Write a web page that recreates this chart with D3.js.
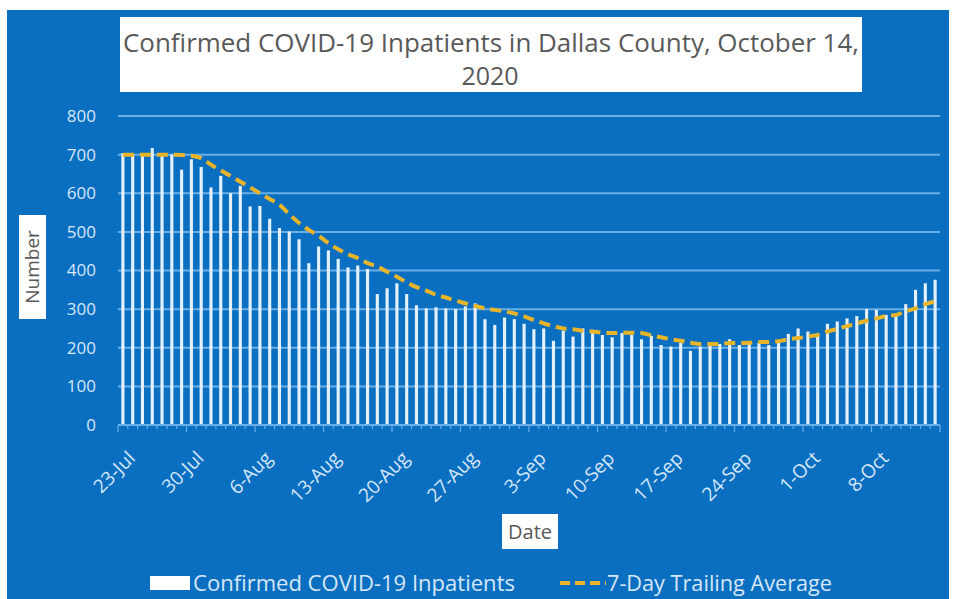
<!DOCTYPE html>
<html>
<head>
<meta charset="utf-8">
<script src="https://cdn.jsdelivr.net/npm/d3@7"></script>
<style>
  body { margin: 0; background: #ffffff; }
  svg { display: block; font-family: "Open Sans", "Noto Sans", sans-serif; }
</style>
</head>
<body>
<svg id="chart" width="956" height="599"></svg>
<script>
// daily confirmed inpatients, 23-Jul to 14-Oct 2020
var inpatients = [
    704, 700, 700, 717, 700, 700, 661, 688, 668, 615,
    645, 600, 619, 566, 567, 534, 510, 501, 481, 419,
    462, 452, 430, 408, 413, 404, 339, 354, 367, 339,
    310, 302, 305, 302, 300, 307, 315, 274, 259, 278,
    274, 262, 248, 250, 218, 244, 229, 250, 242, 233,
    227, 238, 233, 222, 231, 207, 203, 213, 192, 203,
    207, 210, 222, 207, 216, 213, 207, 218, 236, 250,
    242, 238, 262, 268, 276, 282, 300, 298, 285, 287,
    313, 350, 367, 376
];

// 7-day trailing average as drawn
var trailingAvg = [
    700, 700, 700, 700, 700, 700, 699, 697, 691, 674,
    659, 645, 630, 615, 600, 585, 570, 546, 523, 505,
    490, 471, 455, 442, 432, 419, 410, 397, 384, 369,
    357, 348, 337, 330, 322, 315, 308, 302, 298, 294,
    289, 281, 272, 263, 256, 250, 248, 244, 242, 239,
    238, 239, 239, 238, 232, 227, 222, 218, 213, 210,
    210, 210, 212, 212, 213, 215, 215, 217, 222, 225,
    229, 233, 242, 249, 256, 263, 270, 276, 282, 285,
    294, 302, 313, 320
];

var yTicks = [0, 100, 200, 300, 400, 500, 600, 700, 800];
var xTickLabels = ['23-Jul', '30-Jul', '6-Aug', '13-Aug', '20-Aug', '27-Aug',
    '3-Sep', '10-Sep', '17-Sep', '24-Sep', '1-Oct', '8-Oct'];

var days = d3.timeDay.range(new Date(2020, 6, 23), new Date(2020, 9, 15));
var fmt = d3.timeFormat('%-d-%b');
var categories = days.map(function (d) { return fmt(d); });

var blue = '#0a6fc1';
var gridColor = '#6aaee8';
var barColor = '#e4f0fb';
var labelColor = '#d6e7f7';
var avgColor = '#e8b52a';

var svg = d3.select('#chart');

// chart area background
svg.append('rect')
    .attr('x', 7).attr('y', 10)
    .attr('width', 942).attr('height', 589)
    .attr('fill', blue);

var plotLeft = 118, plotRight = 940, plotTop = 116, plotBottom = 425;

var x = d3.scaleBand()
    .domain(categories)
    .range([plotLeft, plotRight])
    .paddingInner(0.68)
    .paddingOuter(0.34);

var y = d3.scaleLinear()
    .domain([0, 800])
    .range([plotBottom, plotTop]);

// title box
svg.append('rect')
    .attr('x', 120).attr('y', 17)
    .attr('width', 742).attr('height', 75)
    .attr('fill', '#ffffff');

svg.append('text')
    .attr('x', 491).attr('y', 52)
    .attr('text-anchor', 'middle')
    .attr('fill', '#595959')
    .style('font-size', '25px')
    .attr('textLength', 736)
    .attr('lengthAdjust', 'spacingAndGlyphs')
    .text('Confirmed COVID-19 Inpatients in Dallas County, October 14,');

svg.append('text')
    .attr('x', 490).attr('y', 85)
    .attr('text-anchor', 'middle')
    .attr('fill', '#595959')
    .style('font-size', '25px')
    .text('2020');

// gridlines
svg.append('g')
    .selectAll('line')
    .data(yTicks.filter(function (t) { return t > 0; }))
    .enter().append('line')
    .attr('x1', plotLeft).attr('x2', plotRight)
    .attr('y1', function (d) { return y(d); })
    .attr('y2', function (d) { return y(d); })
    .attr('stroke', gridColor)
    .attr('stroke-width', 2);

// y axis labels
var yAxis = svg.append('g')
    .attr('transform', 'translate(' + (plotLeft - 22) + ',0)')
    .call(d3.axisLeft(y).tickValues(yTicks).tickSize(0).tickPadding(0));
yAxis.select('.domain').remove();
yAxis.selectAll('text')
    .attr('fill', labelColor)
    .style('font-size', '17px')
    .style('font-family', '"Open Sans", sans-serif');

// bars
svg.append('g')
    .selectAll('rect')
    .data(inpatients)
    .enter().append('rect')
    .attr('x', function (d, i) { return x(categories[i]); })
    .attr('y', function (d) { return y(d); })
    .attr('width', x.bandwidth())
    .attr('height', function (d) { return y(0) - y(d); })
    .attr('fill', barColor);

// x axis line with daily minor ticks
var step = x.step();
svg.append('line')
    .attr('x1', plotLeft).attr('x2', plotRight)
    .attr('y1', plotBottom).attr('y2', plotBottom)
    .attr('stroke', gridColor)
    .attr('stroke-width', 2);

svg.append('g')
    .selectAll('line')
    .data(d3.range(categories.length + 1))
    .enter().append('line')
    .attr('x1', function (i) { return plotLeft + i * step; })
    .attr('x2', function (i) { return plotLeft + i * step; })
    .attr('y1', plotBottom)
    .attr('y2', function (i) { return i % 7 === 0 ? plotBottom + 7 : plotBottom + 4; })
    .attr('stroke', gridColor)
    .attr('stroke-width', 1.2);

// x tick labels
svg.append('g')
    .selectAll('text')
    .data(xTickLabels)
    .enter().append('text')
    .attr('transform', function (d) {
        var cx = x(d) + x.bandwidth() / 2 + 4;
        return 'translate(' + cx + ',' + (plotBottom + 25) + ') rotate(-45)';
    })
    .attr('text-anchor', 'end')
    .attr('dy', '0.7em')
    .attr('fill', labelColor)
    .style('font-size', '19px')
    .text(function (d) { return d; });

// trailing average line
var line = d3.line()
    .x(function (d, i) { return x(categories[i]) + x.bandwidth() / 2; })
    .y(function (d) { return y(d); })
    .curve(d3.curveMonotoneX);

svg.append('path')
    .datum(trailingAvg)
    .attr('d', line)
    .attr('fill', 'none')
    .attr('stroke', avgColor)
    .attr('stroke-width', 4)
    .attr('stroke-dasharray', '11,6');

// axis title "Number"
svg.append('rect')
    .attr('x', 19).attr('y', 215)
    .attr('width', 27).attr('height', 104)
    .attr('fill', '#ffffff');
svg.append('text')
    .attr('transform', 'translate(39,267) rotate(-90)')
    .attr('text-anchor', 'middle')
    .attr('fill', '#595959')
    .style('font-size', '19px')
    .text('Number');

// axis title "Date"
svg.append('rect')
    .attr('x', 502).attr('y', 514)
    .attr('width', 56).attr('height', 35)
    .attr('fill', '#ffffff');
svg.append('text')
    .attr('x', 530).attr('y', 539)
    .attr('text-anchor', 'middle')
    .attr('fill', '#595959')
    .style('font-size', '20px')
    .text('Date');

// legend
var legend = svg.append('g');
legend.append('rect')
    .attr('x', 150).attr('y', 576)
    .attr('width', 40).attr('height', 14)
    .attr('fill', '#ffffff');
legend.append('text')
    .attr('x', 193).attr('y', 591)
    .attr('fill', labelColor)
    .style('font-size', '21px')
    .attr('textLength', 322)
    .attr('lengthAdjust', 'spacingAndGlyphs')
    .text('Confirmed COVID-19 Inpatients');
legend.append('line')
    .attr('x1', 560).attr('x2', 606)
    .attr('y1', 583).attr('y2', 583)
    .attr('stroke', avgColor)
    .attr('stroke-width', 4)
    .attr('stroke-dasharray', '10,5');
legend.append('text')
    .attr('x', 607).attr('y', 591)
    .attr('fill', labelColor)
    .style('font-size', '21px')
    .attr('textLength', 225)
    .attr('lengthAdjust', 'spacingAndGlyphs')
    .text('7-Day Trailing Average');
</script>
</body>
</html>
